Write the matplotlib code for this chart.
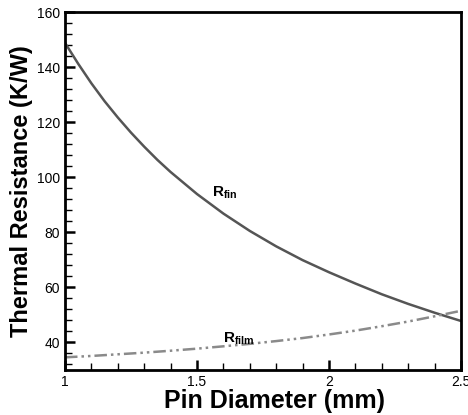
import matplotlib
matplotlib.use('Agg')
import matplotlib.pyplot as plt
from matplotlib.ticker import MultipleLocator

plt.rcParams['font.family'] = ['Liberation Sans', 'DejaVu Sans']
plt.rcParams['mathtext.fontset'] = 'custom'
plt.rcParams['mathtext.rm'] = 'Liberation Sans'
plt.rcParams['mathtext.bf'] = 'Liberation Sans:bold'

# values
diameter = [1.0, 1.05, 1.1, 1.15, 1.2, 1.25, 1.3, 1.35, 1.4, 1.5, 1.6, 1.7,
            1.8, 1.9, 2.0, 2.1, 2.2, 2.3, 2.4, 2.5]
r_fin = [148.8, 141.2, 134.1, 127.6, 121.7, 116.2, 111.1, 106.3, 101.9,
         93.9, 86.8, 80.5, 74.9, 69.9, 65.5, 61.4, 57.5, 54.0, 50.8, 47.8]
r_film = [34.6, 34.85, 35.1, 35.4, 35.7, 36.0, 36.3, 36.65, 37.0,
          37.75, 38.6, 39.5, 40.5, 41.6, 42.9, 44.3, 45.9, 47.6, 49.5, 51.5]

x_ticks = [1, 1.5, 2, 2.5]
x_ticklabels = ['1', '1.5', '2', '2.5']
y_ticks = [40, 60, 80, 100, 120, 140, 160]

fig = plt.figure(figsize=(4.68, 4.15), dpi=100)
ax = fig.add_axes([65/468, 45/415, (461-65)/468, (370-12)/415])

ax.plot(diameter, r_fin, color='#555555', lw=1.8, solid_joinstyle='round')
ax.plot(diameter, r_film, color='#8a8a8a', lw=1.8,
        linestyle=(0, (5, 1.6, 1, 1.6, 1, 1.6)))

ax.set_xlim(1, 2.5)
ax.set_ylim(30, 160)
ax.set_xticks(x_ticks)
ax.set_xticklabels(x_ticklabels)
ax.set_yticks(y_ticks)
ax.xaxis.set_minor_locator(MultipleLocator(0.1))
ax.yaxis.set_minor_locator(MultipleLocator(4))

ax.tick_params(which='both', direction='in', top=False, right=False,
               labelsize=10, colors='black')
ax.tick_params(which='major', length=7, width=1.8, pad=3.5)
ax.tick_params(which='minor', length=5, width=1.0)
for sp in ax.spines.values():
    sp.set_linewidth(2)

ax.set_xlabel('Pin Diameter (mm)', fontsize=18, fontweight='bold')
ax.xaxis.set_label_coords(0.528, -0.053)
ax.set_ylabel('Thermal Resistance (K/W)', fontsize=17, fontweight='bold', labelpad=3)

ax.text(1.557, 93.1, r'$\mathbf{R}_{\mathbf{fin}}$', fontsize=11, color='black')
ax.text(1.598, 40.0, r'$\mathbf{R}_{\mathbf{film}}$', fontsize=11, color='black')

fig.savefig('out.png', dpi=100)
